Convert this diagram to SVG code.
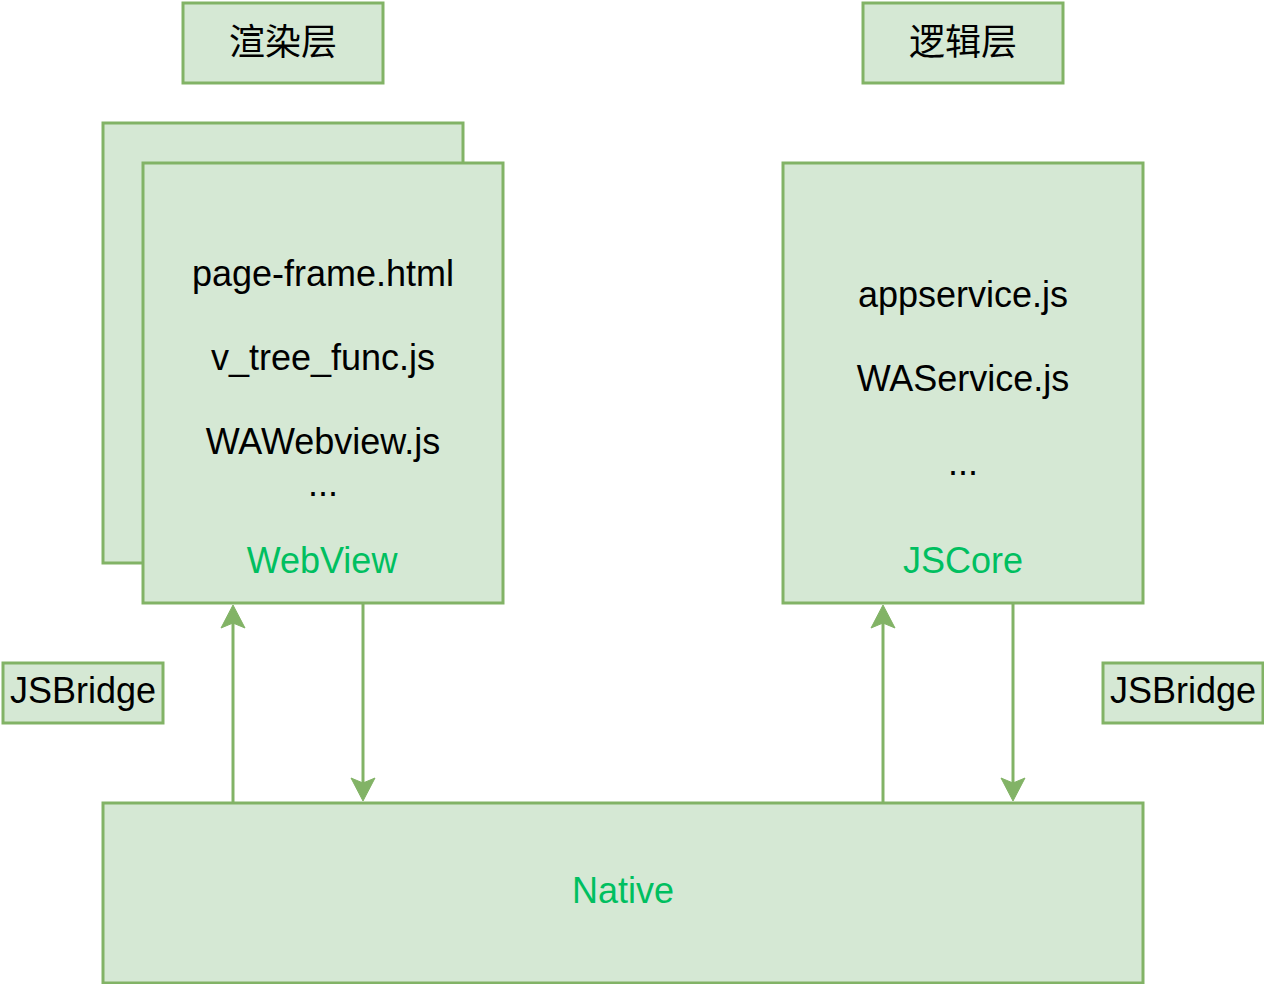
<svg xmlns="http://www.w3.org/2000/svg" width="1264" height="984" viewBox="0 0 1264 984">
<style>
.box{fill:#d5e8d4;stroke:#82b366;stroke-width:3}
.t{font-family:"Liberation Sans",Arial,sans-serif;font-size:36px;fill:#000;text-anchor:middle}
.g{fill:#00bf60}
.cjk{font-family:"Liberation Sans","Noto Sans CJK SC",sans-serif;font-size:36px;fill:#000;text-anchor:middle}
.edge{fill:none;stroke:#82b366;stroke-width:3}
.head{fill:#82b366;stroke:#82b366;stroke-width:1;stroke-linejoin:miter}
</style>
<defs>
<path id="headDown" class="head" d="M-12,-23 L0,0 L12,-23 L0,-18 Z"/>
</defs>
<rect width="1264" height="984" fill="#fff"/>
<g id="render-layer-label">
<rect class="box" x="183" y="3" width="200" height="80"/>
<text class="cjk" x="283" y="55">渲染层</text>
</g>
<g id="logic-layer-label">
<rect class="box" x="863" y="3" width="200" height="80"/>
<text class="cjk" x="963" y="55">逻辑层</text>
</g>
<g id="webview-back">
<rect class="box" x="103" y="123" width="360" height="440"/>
</g>
<g id="webview">
<rect class="box" x="143" y="163" width="360" height="440"/>
<text class="t" x="323" y="286">page-frame.html</text>
<text class="t" x="323" y="370">v_tree_func.js</text>
<text class="t" x="323" y="454">WAWebview.js</text>
<text class="t" x="323" y="496">...</text>
<text class="t g" x="322" y="573">WebView</text>
</g>
<g id="jscore">
<rect class="box" x="783" y="163" width="360" height="440"/>
<text class="t" x="963" y="307">appservice.js</text>
<text class="t" x="963" y="391">WAService.js</text>
<text class="t" x="963" y="475">...</text>
<text class="t g" x="963" y="573">JSCore</text>
</g>
<g id="native">
<rect class="box" x="103" y="803" width="1040" height="180"/>
<text class="t g" x="623" y="903">Native</text>
</g>
<g id="jsbridge-left">
<rect class="box" x="3" y="663" width="160" height="60"/>
<text class="t" x="83" y="703">JSBridge</text>
</g>
<g id="jsbridge-right">
<rect class="box" x="1103" y="663" width="160" height="60"/>
<text class="t" x="1183" y="703">JSBridge</text>
</g>
<g id="connectors">
<path class="edge" d="M233,803 L233,622"/>
<use href="#headDown" transform="translate(233,605) rotate(180)"/>
<path class="edge" d="M363,603 L363,784"/>
<use href="#headDown" transform="translate(363,801)"/>
<path class="edge" d="M883,803 L883,622"/>
<use href="#headDown" transform="translate(883,605) rotate(180)"/>
<path class="edge" d="M1013,603 L1013,784"/>
<use href="#headDown" transform="translate(1013,801)"/>
</g>
</svg>
